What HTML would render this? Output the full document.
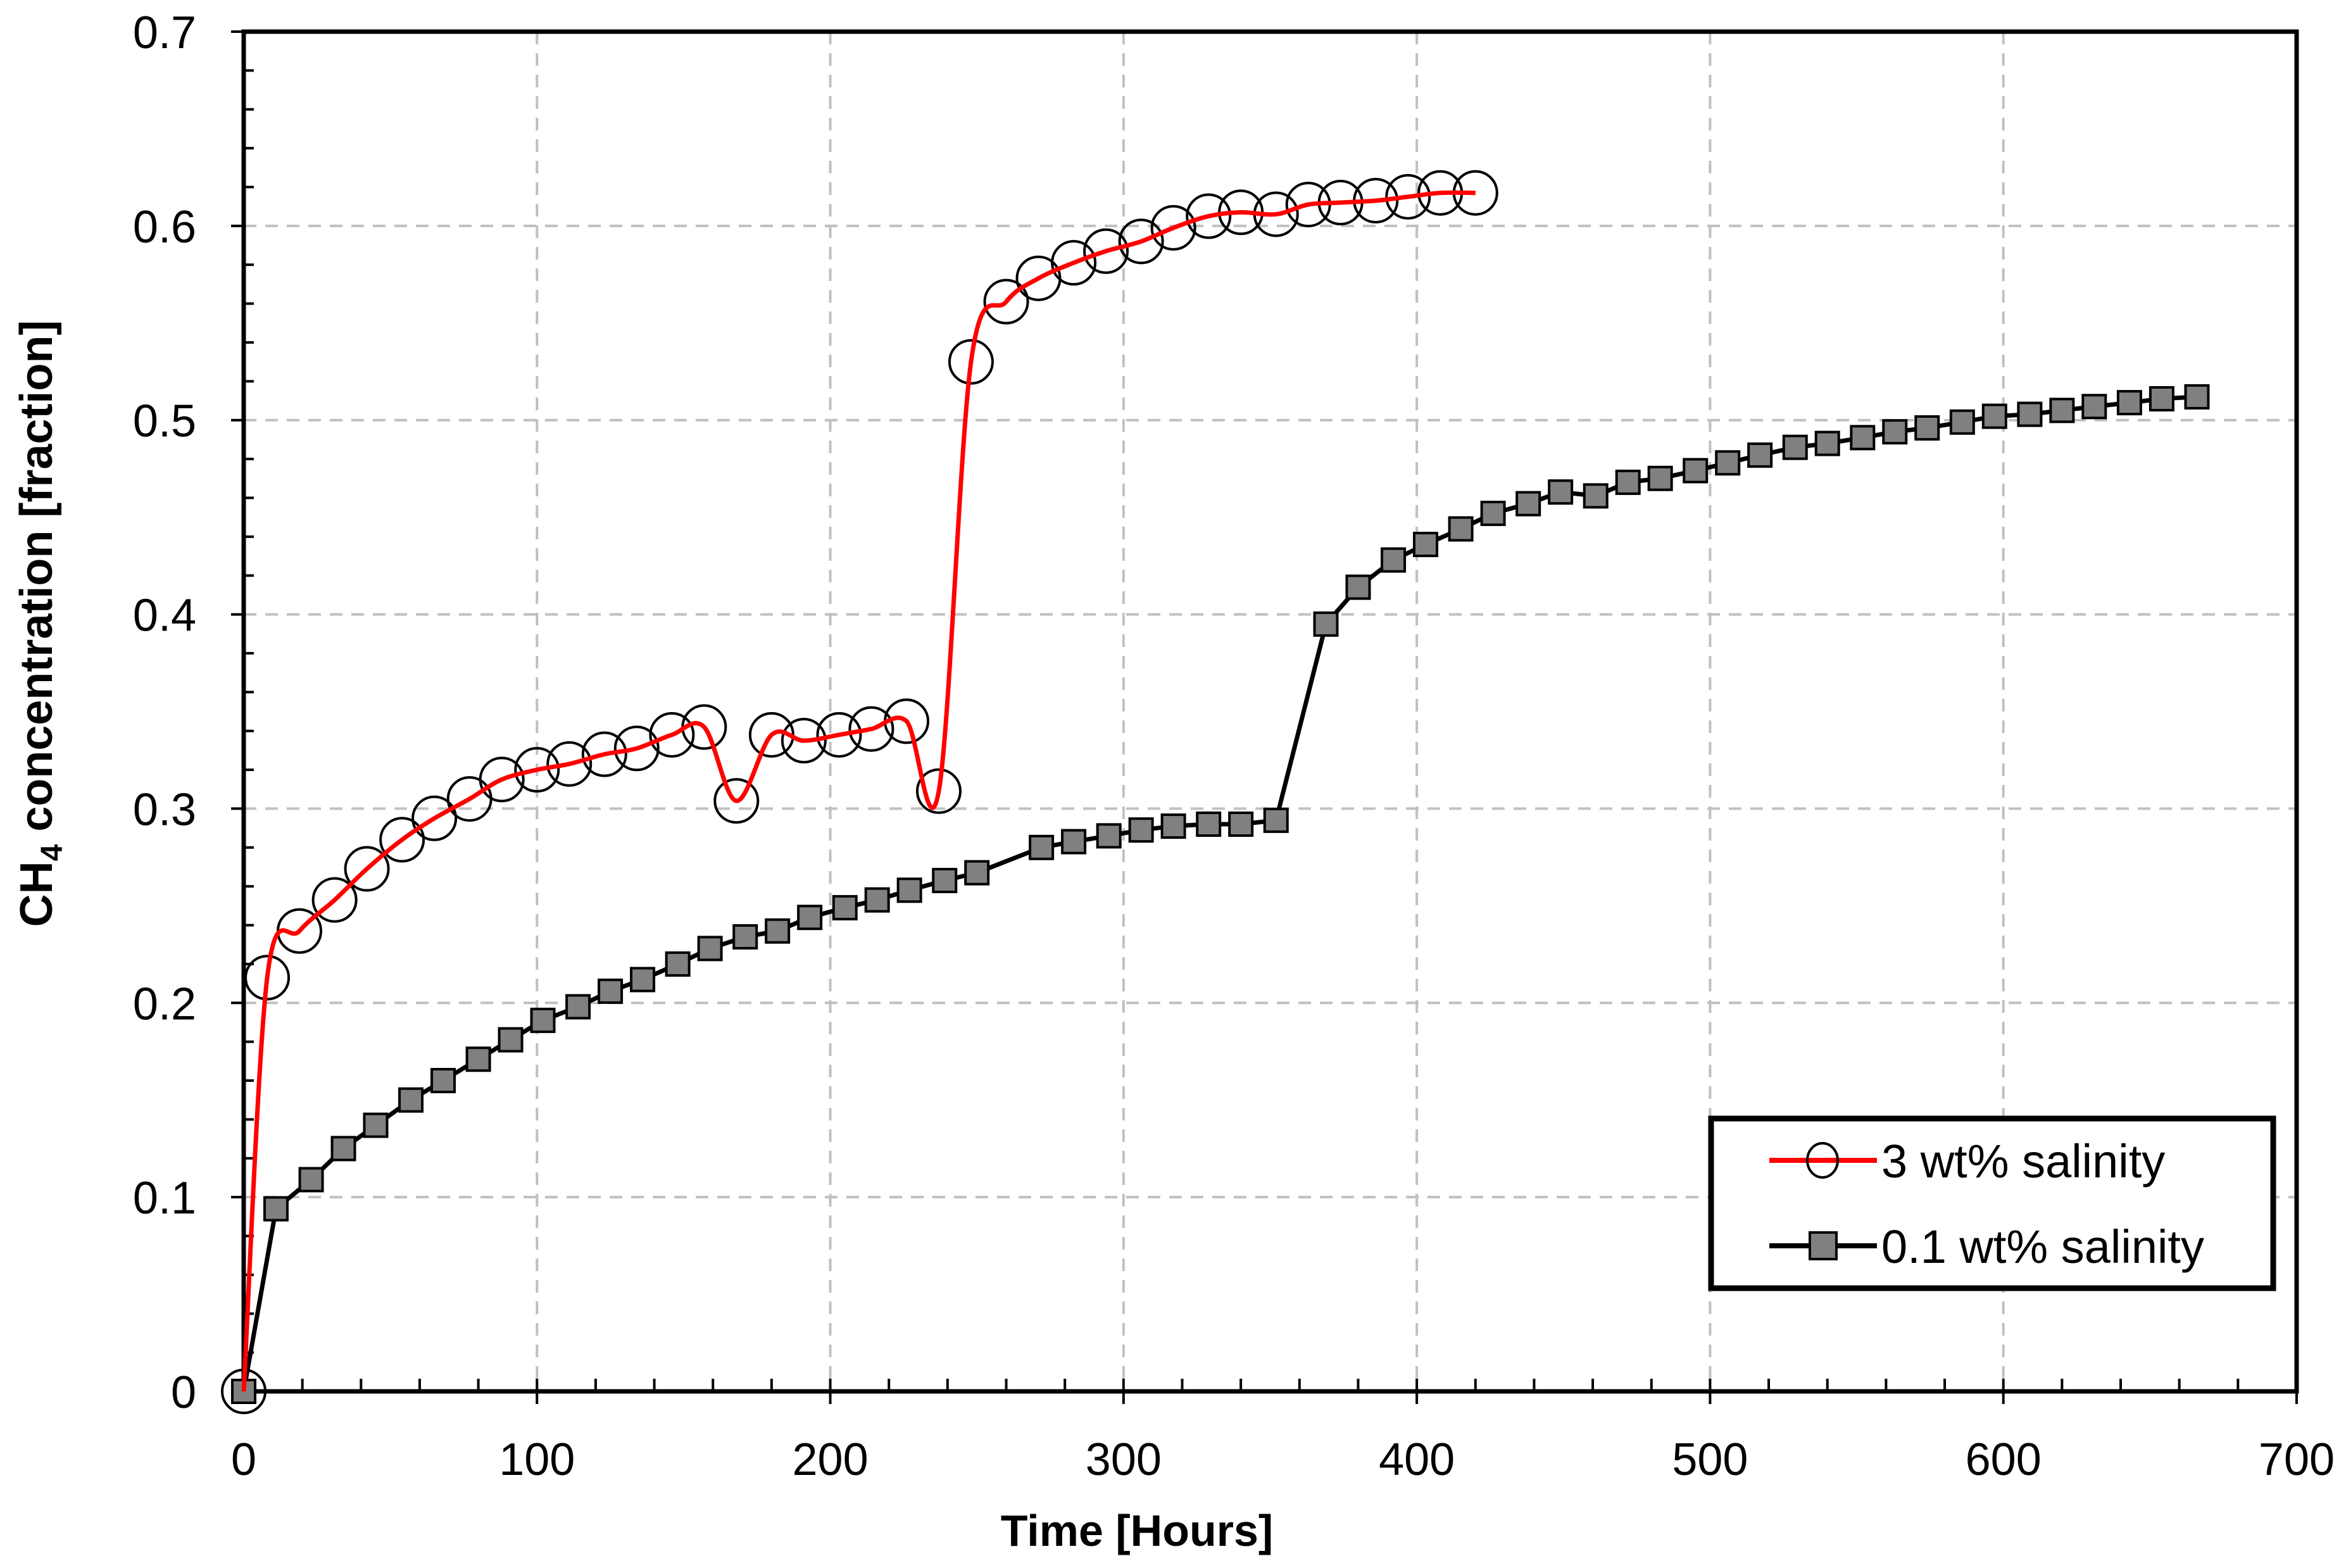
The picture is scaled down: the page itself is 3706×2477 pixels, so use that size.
<!DOCTYPE html>
<html><head><meta charset="utf-8"><style>
html,body{margin:0;padding:0;background:#fff;}
svg{display:block;font-family:"Liberation Sans",sans-serif;}
</style></head><body>
<svg id="chart" width="3706" height="2477" viewBox="0 0 3706 2477" xmlns="http://www.w3.org/2000/svg">
<rect x="0" y="0" width="3706" height="2477" fill="#fff"/>
<g id="grid"></g>
<g id="axes"></g>
<g id="series"></g>
<g id="legend">
  <rect x="2703" y="1767" width="888" height="268" fill="#fff" stroke="#000" stroke-width="9"/>
  <g>
    <line x1="2795" y1="1833" x2="2965" y2="1833" stroke="#ff0000" stroke-width="8"/>
    <ellipse cx="2879" cy="1833" rx="24" ry="27" fill="#fff" fill-opacity="0" stroke="#000" stroke-width="4"/>
    <text x="2972" y="1860" font-size="74">3 wt% salinity</text>
  </g>
  <g>
    <line x1="2795" y1="1968" x2="2965" y2="1968" stroke="#000" stroke-width="8"/>
    <rect x="2859" y="1947" width="42" height="42" fill="#808080" stroke="#000" stroke-width="4"/>
    <text x="2972" y="1995" font-size="74">0.1 wt% salinity</text>
  </g>
</g>
<text x="1796" y="2442" font-size="70" font-weight="bold" text-anchor="middle">Time [Hours]</text>
<text transform="translate(82,985) rotate(-90)" font-size="72" font-weight="bold" text-anchor="middle">CH<tspan font-size="48" dy="16">4</tspan><tspan dy="-16"> concentration [fraction]</tspan></text>
</svg>
<script>
const xTicks=[0,100,200,300,400,500,600,700];
const yTicks=[0,0.1,0.2,0.3,0.4,0.5,0.6,0.7];
const yTickLabels=["0","0.1","0.2","0.3","0.4","0.5","0.6","0.7"];
const redX=[0,8,19,31,42,54,65,77,88,100,111,123,134,146,157,168,180,191,203,214,226,237,248,260,271,283,294,306,317,329,340,352,363,374,386,397,408,420];
const redY=[0,0.213,0.237,0.253,0.269,0.284,0.295,0.305,0.315,0.320,0.323,0.328,0.331,0.338,0.342,0.304,0.338,0.335,0.338,0.341,0.345,0.309,0.530,0.561,0.573,0.581,0.587,0.592,0.599,0.605,0.607,0.606,0.611,0.612,0.613,0.615,0.617,0.617];
const blackX=[0,11,23,34,45,57,68,80,91,102,114,125,136,148,159,171,182,193,205,216,227,239,250,272,283,295,306,317,329,340,352,369,380,392,403,415,426,438,449,461,472,483,495,506,517,529,540,552,563,574,586,597,609,620,631,643,654,666];
const blackY=[0,0.094,0.109,0.125,0.137,0.150,0.160,0.171,0.181,0.191,0.198,0.206,0.212,0.220,0.228,0.234,0.237,0.244,0.249,0.253,0.258,0.263,0.267,0.280,0.283,0.286,0.289,0.291,0.292,0.292,0.294,0.395,0.414,0.428,0.436,0.444,0.452,0.457,0.463,0.461,0.468,0.470,0.474,0.478,0.482,0.486,0.488,0.491,0.494,0.496,0.499,0.502,0.503,0.505,0.507,0.509,0.511,0.512];
const L=385,R=3628,T=50,B=2198;
const sx=v=>L+(v-0)/(700-0)*(R-L);
const sy=v=>B-(v-0)/(0.7-0)*(B-T);
const NS="http://www.w3.org/2000/svg";
function mk(tag,attrs,parent){const e=document.createElementNS(NS,tag);for(const k in attrs)e.setAttribute(k,attrs[k]);parent.appendChild(e);return e;}
const grid=document.getElementById('grid'),axes=document.getElementById('axes'),ser=document.getElementById('series');
xTicks.forEach((t,i)=>{
  if(t>0&&t<700){const g=mk('line',{x1:sx(t),x2:sx(t),y1:T,y2:B,stroke:'#c0c0c0','stroke-width':4,'stroke-dasharray':'20 14'},grid);
  
  }
  const tk=mk('line',{x1:sx(t),x2:sx(t),y1:B-20,y2:B+20,stroke:'#000','stroke-width':4},axes);
  
  
  const tx=mk('text',{x:sx(t),y:2330,'font-size':72,'text-anchor':'middle'},axes);tx.textContent=String(t);
  
  
  if(t<700){for(let m=1;m<5;m++){mk('line',{x1:sx(t+m*20),x2:sx(t+m*20),y1:B-20,y2:B,stroke:'#000','stroke-width':4},axes);}}
});
yTicks.forEach((t,i)=>{
  if(t>0&&t<0.7){const g=mk('line',{x1:L,x2:R,y1:sy(t),y2:sy(t),stroke:'#c0c0c0','stroke-width':4,'stroke-dasharray':'20 14'},grid);
  
  }
  const tk=mk('line',{x1:L-20,x2:L,y1:sy(t),y2:sy(t),stroke:'#000','stroke-width':4},axes);
  
  
  const tx=mk('text',{x:310,y:sy(t)+26,'font-size':72,'text-anchor':'end'},axes);tx.textContent=yTickLabels[i];
  
  
  if(t<0.7){for(let m=1;m<5;m++){mk('line',{x1:L,x2:L+16,y1:sy(t+m*0.02),y2:sy(t+m*0.02),stroke:'#000','stroke-width':4},axes);}}
});
const frame=mk('rect',{x:L,y:T,width:R-L,height:B-T,fill:'none',stroke:'#000','stroke-width':7},axes);


function smooth(px,py){let d='M'+px[0]+','+py[0];for(let i=0;i<px.length-1;i++){const x0=px[Math.max(i-1,0)],y0=py[Math.max(i-1,0)],x1=px[i],y1=py[i],x2=px[i+1],y2=py[i+1],x3=px[Math.min(i+2,px.length-1)],y3=py[Math.min(i+2,px.length-1)];
d+=' C'+(x1+(x2-x0)/6)+','+(y1+(y2-y0)/6)+' '+(x2-(x3-x1)/6)+','+(y2-(y3-y1)/6)+' '+x2+','+y2;}return d;}
const bpts=blackX.map((x,i)=>sx(x)+','+sy(blackY[i])).join(' ');
const bl=mk('polyline',{points:bpts,fill:'none',stroke:'#000','stroke-width':7,'stroke-linejoin':'round'},ser);


blackX.forEach((x,i)=>{const r=mk('rect',{x:sx(x)-18,y:sy(blackY[i])-18,width:36,height:36,fill:'#808080',stroke:'#000','stroke-width':4},ser);

});
redX.forEach((x,i)=>{const c=mk('circle',{cx:sx(x),cy:sy(redY[i]),r:34,fill:'none',stroke:'#000','stroke-width':4},ser);

});
const rl=mk('path',{d:smooth(redX.map(sx),redY.map(sy)),fill:'none',stroke:'#ff0000','stroke-width':7},ser);


</script>
</body></html>
